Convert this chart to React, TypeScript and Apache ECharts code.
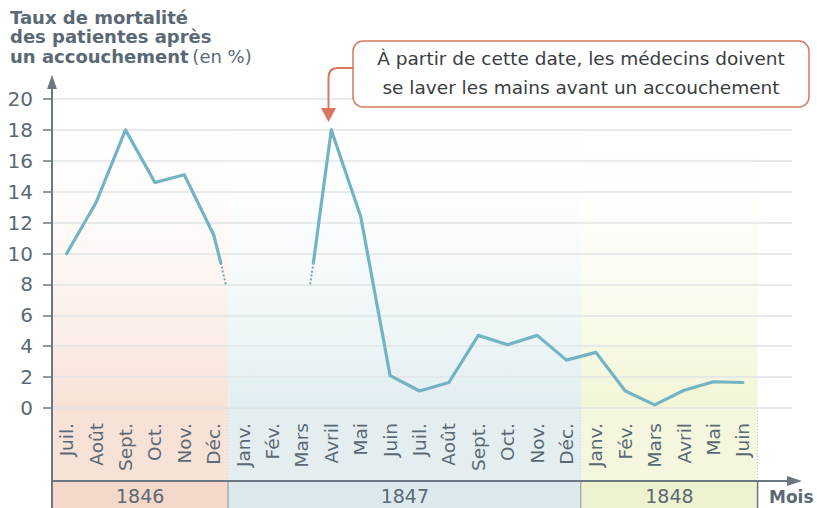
import React, { useEffect, useRef } from 'react';
import * as echarts from 'echarts';

// ---- data ----
const months = ['Juil.', 'Août', 'Sept.', 'Oct.', 'Nov.', 'Déc.', 'Janv.', 'Fév.', 'Mars', 'Avril', 'Mai', 'Juin',
  'Juil.', 'Août', 'Sept.', 'Oct.', 'Nov.', 'Déc.', 'Janv.', 'Fév.', 'Mars', 'Avril', 'Mai', 'Juin'];
const rates: (number | null)[] = [10, 13.3, 18, 14.6, 15.1, 11.2, null, null, null, 18, 12.4, 2.1,
  1.1, 1.65, 4.7, 4.1, 4.7, 3.1, 3.6, 1.1, 0.2, 1.15, 1.7, 1.65];
// [month position, rate] where the curve fades out / back in around the missing months
const gapFadeOut = [[5.24, 9.4], [5.41, 8.0]];
const gapFadeIn = [[8.28, 8.0], [8.39, 9.4]];
const yearLabels = ['1846', '1847', '1848'];
const yearFirstMonth = [0, 6, 18];
const yearLastMonth = [5, 17, 23];
const yMin = 0;
const yMax = 20;
const yStep = 2;
const annotationLines = ['À partir de cette date, les médecins doivent', 'se laver les mains avant un accouchement'];

// ---- styles ----
const FONT = '"DejaVu Sans", "Open Sans", sans-serif';
const TXT = '#5b6975';
const AXIS = '#6b7883';
const LINE = '#72b4c3';
const DOT = '#7da6b0';
const ACCENT = '#d6785f';
const bandPlot = ['rgba(245,215,200,0.75)', 'rgba(214,232,236,0.75)', 'rgba(238,242,200,0.75)'];
const bandLabel = ['#f7e2d8', '#e4eef0', '#f4f6de'];
const bandYear = ['#f4d8ca', '#dce9ec', '#eef2cf'];

const GRID_LEFT = 52;
const GRID_TOP = 99;
const GRID_H = 309;
const MONTH_W = 29.4;
const LABEL_AREA = 73;

export default function App() {
  const ref = useRef<HTMLDivElement>(null);
  useEffect(() => {
    if (!ref.current) return;
    const chart = echarts.init(ref.current, undefined, { renderer: 'svg' });
    const axisY = GRID_TOP + GRID_H + LABEL_AREA;

    const lineStyle = { color: LINE, width: 3.2, join: 'round' as const, cap: 'round' as const };
    const dotStyle = { color: DOT, width: 2, type: [2, 2] as number[] };

    const option: any = {
      animation: false,
      grid: [
        { left: GRID_LEFT, top: GRID_TOP, width: 740, height: GRID_H },
        { left: GRID_LEFT, top: GRID_TOP, width: months.length * MONTH_W, height: GRID_H },
      ],
      xAxis: [
        { gridIndex: 0, type: 'value', show: false, min: 0, max: 1 },
        {
          gridIndex: 1, type: 'category', data: months, boundaryGap: true, position: 'bottom',
          axisLine: { show: false }, axisTick: { show: false }, splitLine: { show: false },
          axisLabel: { interval: 0, rotate: 90, margin: 15, fontSize: 18.5, color: TXT, fontFamily: FONT },
        },
        { gridIndex: 1, type: 'value', show: false, min: -0.5, max: months.length - 0.5, position: 'top' },
      ],
      yAxis: [
        {
          gridIndex: 0, type: 'value', min: yMin, max: yMax, interval: yStep,
          axisLine: { show: false },
          axisTick: { show: true, length: 9, lineStyle: { color: AXIS, width: 1.5 } },
          axisLabel: { margin: 19, fontSize: 20, color: TXT, fontFamily: FONT },
          splitLine: { show: true, lineStyle: { color: '#e1e4e6', width: 1.5 } },
        },
        { gridIndex: 1, type: 'value', min: yMin, max: yMax, show: false },
      ],
      series: [
        {
          type: 'custom', xAxisIndex: 2, yAxisIndex: 1, z: -1, silent: true,
          data: yearLabels.map((_, i) => [yearFirstMonth[i], yearLastMonth[i], i]),
          encode: { x: [0, 1], y: 2 },
          renderItem: (params: any, api: any) => {
            const s = api.value(0);
            const e = api.value(1);
            const i = api.value(2);
            const tl = api.coord([s - 0.5, yMax]);
            const br = api.coord([e + 0.5, yMin]);
            const x0 = tl[0], x1 = br[0], yTop = tl[1], yBase = br[1];
            const w = x1 - x0;
            return {
              type: 'group',
              children: [
                {
                  type: 'rect', shape: { x: x0, y: yTop, width: w, height: yBase - yTop },
                  style: {
                    fill: new echarts.graphic.LinearGradient(0, 0, 0, 1, [
                      { offset: 0, color: 'rgba(255,255,255,0)' },
                      { offset: 1, color: bandPlot[i] },
                    ]),
                  },
                },
                { type: 'rect', shape: { x: x0, y: yBase, width: w, height: LABEL_AREA }, style: { fill: bandLabel[i] } },
                { type: 'rect', shape: { x: x0, y: yBase + LABEL_AREA, width: w, height: 40 }, style: { fill: bandYear[i] } },
                {
                  type: 'text', x: x0 + w / 2, y: yBase + LABEL_AREA + 15,
                  style: { text: yearLabels[i], fill: TXT, fontSize: 19, fontFamily: FONT, align: 'center', verticalAlign: 'middle' },
                },
                {
                  type: 'line', shape: { x1: x1, y1: yBase, x2: x1, y2: yBase + LABEL_AREA },
                  style: { stroke: '#b7bec3', lineWidth: 1, lineDash: [1, 2] },
                },
                {
                  type: 'line', shape: { x1: x1, y1: yBase + LABEL_AREA, x2: x1, y2: yBase + LABEL_AREA + 40 },
                  style: { stroke: AXIS, lineWidth: 1.5 },
                },
              ],
            };
          },
        },
        {
          type: 'line', xAxisIndex: 2, yAxisIndex: 1, z: 5, symbol: 'none', connectNulls: false,
          data: rates.map((v, i) => [i, v === null ? '-' : v]),
          lineStyle,
        },
        {
          type: 'line', xAxisIndex: 2, yAxisIndex: 1, z: 5, symbol: 'none',
          data: [[5, rates[5]], gapFadeOut[0]], lineStyle,
        },
        {
          type: 'line', xAxisIndex: 2, yAxisIndex: 1, z: 5, symbol: 'none',
          data: gapFadeOut, lineStyle: dotStyle,
        },
        {
          type: 'line', xAxisIndex: 2, yAxisIndex: 1, z: 5, symbol: 'none',
          data: gapFadeIn, lineStyle: dotStyle,
        },
        {
          type: 'line', xAxisIndex: 2, yAxisIndex: 1, z: 5, symbol: 'none',
          data: [gapFadeIn[1], [9, rates[9]]], lineStyle,
        },
      ],
      graphic: [
        {
          type: 'text', x: 10, y: 8, z: 10, scaleX: 1.06,
          style: {
            text: '{b|Taux de mortalité}\n{b|des patientes après}\n{b|un accouchement} {n|(en %)}',
            verticalAlign: 'top',
            rich: {
              b: { fontWeight: 'bold', fontSize: 17, lineHeight: 19.5, fontFamily: FONT, fill: TXT },
              n: { fontWeight: 'normal', fontSize: 17, lineHeight: 19.5, fontFamily: FONT, fill: TXT },
            },
          },
        },
        // y axis with arrow
        { type: 'line', z: 10, shape: { x1: GRID_LEFT, y1: 508, x2: GRID_LEFT, y2: 86 }, style: { stroke: AXIS, lineWidth: 2 } },
        { type: 'polygon', z: 10, shape: { points: [[GRID_LEFT - 5, 89], [GRID_LEFT + 5, 89], [GRID_LEFT, 75]] }, style: { fill: AXIS } },
        // x axis with arrow
        { type: 'line', z: 10, shape: { x1: GRID_LEFT, y1: axisY, x2: 790, y2: axisY }, style: { stroke: AXIS, lineWidth: 2 } },
        { type: 'polygon', z: 10, shape: { points: [[787, axisY - 5], [787, axisY + 5], [802, axisY]] }, style: { fill: AXIS } },
        {
          type: 'text', z: 10, x: 769, y: 497,
          style: { text: 'Mois', fill: TXT, fontSize: 17, fontWeight: 'bold', fontFamily: FONT, verticalAlign: 'middle' },
        },
        // annotation
        {
          type: 'rect', z: 10, shape: { x: 353, y: 41, width: 456, height: 66, r: 10 },
          style: { fill: '#ffffff', stroke: ACCENT, lineWidth: 1.5 },
        },
        {
          type: 'text', z: 11, x: 581, y: 73,
          style: {
            text: annotationLines.join('\n'), fill: '#3a3d40', fontSize: 18.5, lineHeight: 29,
            fontFamily: FONT, align: 'center', verticalAlign: 'middle',
          },
        },
        { type: 'polyline', z: 10, shape: { points: [[353, 68], [338, 68]] }, style: { stroke: ACCENT, lineWidth: 2, fill: 'none' } },
        {
          type: 'bezierCurve', z: 10, shape: { x1: 338, y1: 68, cpx1: 328.5, cpy1: 68, x2: 328.5, y2: 78 },
          style: { stroke: ACCENT, lineWidth: 2, fill: 'none' },
        },
        { type: 'line', z: 10, shape: { x1: 328.5, y1: 78, x2: 328.5, y2: 110 }, style: { stroke: ACCENT, lineWidth: 2 } },
        { type: 'polygon', z: 10, shape: { points: [[321, 108], [336, 108], [328.5, 122]] }, style: { fill: ACCENT } },
      ],
    };
    chart.setOption(option);
    return () => chart.dispose();
  }, []);
  return <div ref={ref} style={{ width: 817, height: 508, position: 'absolute', left: 0, top: 0 }} />;
}
